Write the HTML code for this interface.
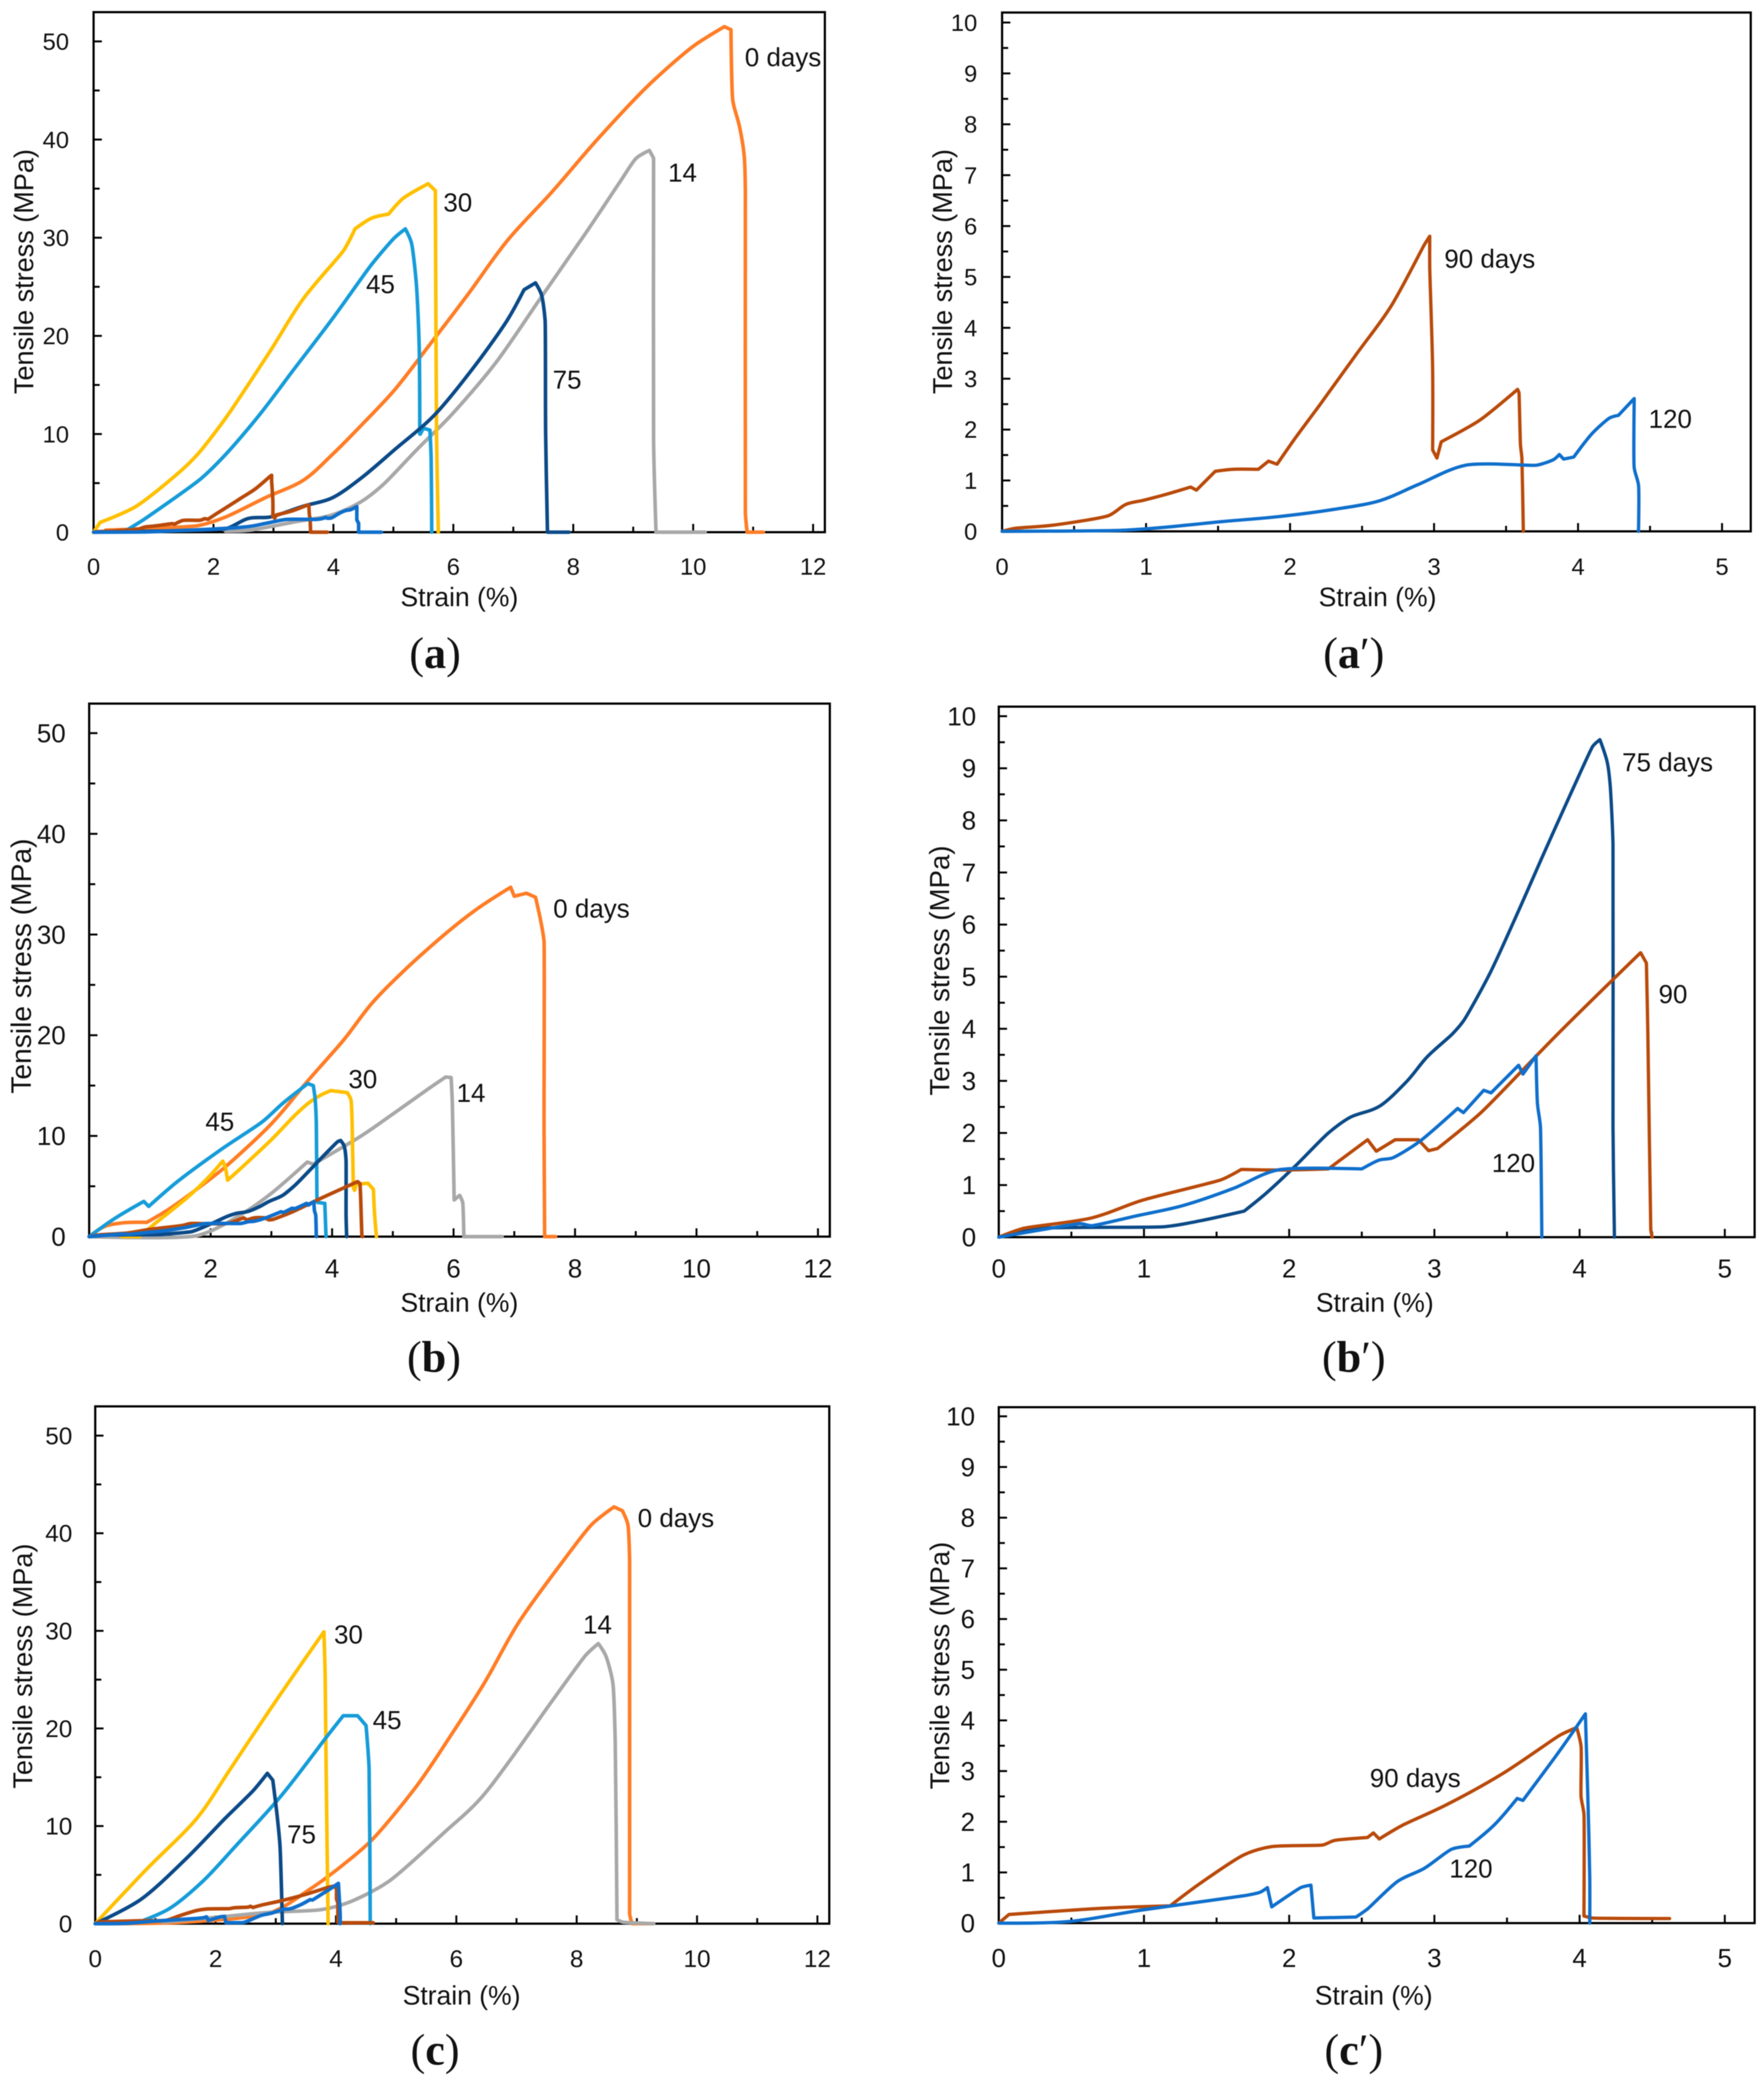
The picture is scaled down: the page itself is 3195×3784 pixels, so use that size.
<!DOCTYPE html>
<html lang="en">
<head>
<meta charset="utf-8">
<title>Tensile stress versus strain curves</title>
<style>
html,body{margin:0;padding:0;background:#fff;width:3195px;height:3784px;overflow:hidden}
svg{display:block;filter:blur(.8px)}
text{fill:#111;font-family:"Liberation Sans",sans-serif}
.panel-letter{font-family:"Liberation Serif",serif}
</style>
</head>
<body>
<svg id="figure" xmlns="http://www.w3.org/2000/svg" width="3195" height="3784" viewBox="0 0 3195 3784"></svg>
<script>
// ---- axis values ----
const strainTicksWide=[0,2,4,6,8,10,12];
const strainTicksNarrow=[0,1,2,3,4,5];
const stressTicksWide=[0,10,20,30,40,50];
const stressTicksNarrow=[0,1,2,3,4,5,6,7,8,9,10];

// ---- panel a ----
const aOrangeStrain=[0.2,1.73,2.2,2.86,3.5,3.98,4.45,5.02,5.58,6.24,6.9,7.65,8.4,9.25,10,10.52,10.63,10.66,10.77,10.85,10.87,10.87,10.9,11.17];
const aOrangeStress=[0.2,0.66,1.54,3.5,5.3,7.9,10.8,14.5,18.9,24.2,29.7,34.7,40,45.5,49.5,51.5,51.2,44,41.4,38.4,34.8,2,0,0];
const aGrayStrain=[2.2,2.6,3.4,3.98,4.46,4.83,5.39,5.96,6.7,7.46,8.2,8.78,9.05,9.27,9.34,9.34,9.38,10.2];
const aGrayStress=[0.1,0.2,1.1,1.76,3.1,4.85,8.4,11.9,17.2,23.9,30.4,35.7,38.1,38.9,38.1,9.3,0,0];
const aYellowStrain=[0,0.11,0.7,1.4,1.73,2.2,2.95,3.5,4.17,4.36,4.64,4.92,5.16,5.58,5.7,5.72,5.75];
const aYellowStress=[0,1,2.6,5.95,7.9,11.6,18.5,23.8,28.7,30.9,32,32.4,34,35.5,34.8,10,0];
const aSkyStrain=[0.55,0.84,1.78,2.2,2.76,3.33,3.99,4.64,5.02,5.2,5.3,5.38,5.43,5.44,5.45,5.5,5.61,5.63,5.64];
const aSkyStress=[0.2,1.3,5.4,7.9,11.9,16.5,21.8,27.3,30,30.9,29.5,25.5,19,10,10,10.6,10.4,7.5,0];
const aNavyStrain=[0,2.2,2.58,2.95,3.5,3.98,4.46,5.02,5.68,6.34,6.9,7.18,7.37,7.47,7.53,7.54,7.57,7.93];
const aNavyStress=[0,0.35,1.4,1.55,2.65,3.5,5.5,8.4,11.9,16.8,21.6,24.7,25.4,24.2,21.6,10,0,0];

// ---- panel a' (also drawn in a) ----
const apRustStrain=[0,0.09,0.35,0.74,0.86,0.98,1.13,1.31,1.35,1.48,1.6,1.78,1.85,1.91,2.03,2.21,2.46,2.7,2.93,2.97,2.97,2.99,2.99,3.02,3.05,3.11,3.32,3.58,3.59,3.6,3.61,3.62];
const apRustStress=[0,0.06,0.12,0.31,0.53,0.61,0.72,0.87,0.81,1.18,1.22,1.22,1.38,1.32,1.81,2.5,3.48,4.42,5.62,5.8,5.17,3.2,1.6,1.44,1.76,1.85,2.19,2.79,2.72,1.7,1.44,0];
const apBlueStrain=[0,0.82,1.13,1.52,1.92,2.3,2.62,2.89,3.22,3.71,3.83,3.87,3.9,3.97,4.1,4.22,4.28,4.39,4.39,4.42,4.42];
const apBlueStress=[0,0.02,0.08,0.19,0.29,0.43,0.6,0.92,1.3,1.3,1.41,1.51,1.42,1.46,1.93,2.23,2.28,2.61,1.25,0.91,0];
const aRustTailStrain=[3.9];
const aRustTailStress=[0];
const aBlueTailStrain=[4.8];
const aBlueTailStress=[0];

// ---- panel b ----
const bOrangeStrain=[0,0.25,0.58,0.95,1.32,1.88,2.25,3,3.59,4.2,4.66,5.2,5.87,6.4,6.94,7,7.2,7.35,7.43,7.49,7.49,7.5,7.68];
const bOrangeStress=[0,1,1.38,1.42,2.75,5.2,6.97,11.2,15.4,19.6,23.2,26.5,30.1,32.6,34.7,33.8,34.1,33.7,31.5,29.3,11,0,0];
const bGrayStrain=[0,1.78,2.53,3,3.59,3.69,4.48,5.03,5.59,5.87,5.96,5.98,6.01,6.1,6.15,6.17,6.8];
const bGrayStress=[0,0.1,2.3,4.3,7.4,7.2,10,12.3,14.7,15.85,15.8,13.2,3.64,4.1,3.4,0,0];
const bYellowStrain=[0.54,0.83,1.11,1.6,1.95,2.2,2.24,2.28,2.68,3.03,3.38,3.62,3.83,3.98,4.25,4.31,4.33,4.35,4.37,4.4,4.59,4.68,4.7,4.73];
const bYellowStress=[0,0,1.43,3.8,5.8,7.5,6.9,5.6,7.8,9.8,12,13.3,14.1,14.5,14.3,13.6,11.3,4.9,4.6,5.2,5.3,4.7,2.2,0];
const bSkyStrain=[0,0.42,0.9,0.98,1.46,2.16,2.85,3.2,3.6,3.69,3.72,3.74,3.75,3.76,3.88,3.9];
const bSkyStress=[0,1.8,3.5,3,5.5,8.6,11.4,13.3,15.2,15,13.7,11.3,4,3.4,3.3,0];

// ---- panel b' (also drawn in b) ----
const bpNavyStrain=[0,0.29,1.14,1.38,1.69,1.84,2.04,2.27,2.42,2.62,2.81,2.95,3.12,3.2,3.38,3.59,3.74,3.94,4.09,4.14,4.19,4.21,4.23,4.23,4.24];
const bpNavyStress=[0,0.17,0.2,0.31,0.5,0.84,1.36,2,2.3,2.51,2.99,3.46,3.89,4.15,5.05,6.33,7.28,8.52,9.42,9.55,9.12,8.7,7.54,2.13,0];
const bpRustStrain=[0,0.17,0.64,0.99,1.53,1.67,1.84,2,2.27,2.54,2.6,2.73,2.89,2.96,3.02,3.32,3.86,4.42,4.46,4.47,4.49,4.5];
const bpRustStress=[0,0.17,0.37,0.71,1.1,1.3,1.29,1.29,1.31,1.87,1.65,1.87,1.87,1.66,1.7,2.39,3.93,5.46,5.26,3.93,0.15,0];
const bpBlueStrain=[0,0.56,0.64,0.95,1.26,1.61,1.92,2.5,2.62,2.71,2.89,3.16,3.2,3.34,3.39,3.58,3.61,3.7,3.71,3.73,3.74];
const bpBlueStress=[0,0.26,0.22,0.41,0.6,0.93,1.29,1.31,1.48,1.52,1.82,2.47,2.39,2.82,2.77,3.3,3.13,3.48,2.56,2.13,0];

// ---- panel c ----
const cOrangeStrain=[0,1.5,2.9,3.56,4.03,4.6,5.34,5.9,6.47,7.03,7.78,8.25,8.62,8.76,8.85,8.88,8.88,8.92,9.28];
const cOrangeStress=[0,0.15,1.1,3.5,5.6,8.6,14.1,19.2,24.7,30.8,37.2,40.9,42.7,42.3,40.9,37.2,1,0,0];
const cGrayStrain=[1.12,2.16,2.9,3.75,4.22,4.87,5.81,6.37,6.84,7.59,8.15,8.36,8.48,8.6,8.64,8.67,8.77,9.28];
const cGrayStress=[0.15,0.74,1.16,1.43,2.2,4.3,9.4,12.6,16.3,22.8,27.5,28.7,27.5,24.7,18.7,0.4,0.15,0];
const cYellowStrain=[0,0.84,1.69,2.25,2.9,3.47,3.8,3.82,3.84,3.87];
const cYellowStress=[0,5.5,10.8,15.9,21.9,27,29.9,25.6,14,0];
const cSkyStrain=[0.7,1.22,1.78,2.34,3.09,3.84,4.12,4.36,4.5,4.55,4.57];
const cSkyStress=[0.1,1.5,4.3,8,13.1,19.1,21.3,21.3,20.3,15.9,0];
const cNavyStrain=[0,0.75,1.5,2.16,2.62,2.86,2.95,3.02,3.07,3.11];
const cNavyStress=[0,2.45,6.6,10.8,13.6,15.4,14.7,11.2,8,0];

// ---- panel c' (also drawn in c) ----
const cpRustStrain=[0,0.07,0.37,0.76,1.18,1.38,1.69,1.88,2.23,2.31,2.54,2.58,2.62,2.78,3.08,3.47,3.86,3.98,4.01,4.01,4.03,4.03,4.09,4.62];
const cpRustStress=[0,0.17,0.23,0.3,0.34,0.77,1.35,1.51,1.54,1.63,1.69,1.78,1.66,1.93,2.33,2.95,3.7,3.86,3.49,2.5,2.15,0.14,0.1,0.09];
const cpBlueStrain=[0,0.48,0.99,1.69,1.8,1.85,1.88,2.08,2.15,2.17,2.46,2.54,2.75,2.93,3.12,3.24,3.41,3.57,3.61,3.86,4.04,4.06,4.07,4.07];
const cpBlueStress=[0,0.03,0.26,0.54,0.61,0.7,0.32,0.7,0.75,0.1,0.12,0.28,0.83,1.08,1.46,1.52,1.93,2.46,2.42,3.39,4.13,2.15,0.9,0];

const COL={orange:'#ff7d26',gray:'#a8a8a8',yellow:'#ffc000',sky:'#169cd9',navy:'#0b4a88',rust:'#b94a0a',blue:'#0f6fcc'};
const NS='http://www.w3.org/2000/svg';
const fig=document.getElementById('figure');

function make(tag,parent,props){
  const el=document.createElementNS(NS,tag);
  for(const k in props)el.setAttribute(k,props[k]);
  parent.appendChild(el);
  return el;
}

// Smooth path through the points: sharp bends stay corners, and each handle is
// limited by the shorter neighbouring segment so long drops and plateaus stay straight.
function curvePath(pts){
  const unit=(a,b)=>{const dx=b[0]-a[0],dy=b[1]-a[1],l=Math.hypot(dx,dy)||1;return [dx/l,dy/l,l];};
  const tan=pts.map((p,i)=>{
    if(i===0||i===pts.length-1)return null;
    const u=unit(pts[i-1],p),v=unit(p,pts[i+1]);
    if(u[0]*v[0]+u[1]*v[1]<0.9)return null;
    const s=unit([0,0],[u[0]+v[0],u[1]+v[1]]);
    const h=Math.min(u[2],v[2])/3;
    return [s[0]*h,s[1]*h];
  });
  let d='M'+pts[0][0].toFixed(1)+' '+pts[0][1].toFixed(1);
  for(let i=1;i<pts.length;i++){
    const a=pts[i-1],b=pts[i];
    const t0=tan[i-1],t1=tan[i];
    const c1=t0?[a[0]+t0[0],a[1]+t0[1]]:a;
    const c2=t1?[b[0]-t1[0],b[1]-t1[1]]:b;
    d+='C'+c1[0].toFixed(1)+' '+c1[1].toFixed(1)+' '+c2[0].toFixed(1)+' '+c2[1].toFixed(1)+' '+b[0].toFixed(1)+' '+b[1].toFixed(1);
  }
  return d;
}

function drawPanel(p){
  const g=make('g',fig,{});
  
  
  const X=v=>p.x0+v*p.xUnit;
  const Y=v=>p.y0-v*p.yUnit;

  const frame=make('rect',g,{x:p.x0,y:p.top,width:p.right-p.x0,height:p.y0-p.top,fill:'none',stroke:'#000','stroke-width':4});
  
  

  // x ticks with a minor tick halfway between labelled values
  const xStep=p.xTicks[1]-p.xTicks[0];
  p.xTicks.forEach(v=>{
    const t=make('line',g,{x1:X(v),x2:X(v),y1:p.y0,y2:p.y0-15,stroke:'#000','stroke-width':3.5});
    
    
    const l=make('text',g,{x:X(v),y:p.tickBaseX,'text-anchor':'middle','font-size':p.tickFont});
    l.textContent=v;
    
    
    if(X(v+xStep/2)<p.right){
      const m=make('line',g,{x1:X(v+xStep/2),x2:X(v+xStep/2),y1:p.y0,y2:p.y0-10,stroke:'#000','stroke-width':3.5});
      
      
    }
  });

  // y ticks with a minor tick halfway between labelled values
  const yStep=p.yTicks[1]-p.yTicks[0];
  p.yTicks.forEach((v,i)=>{
    const t=make('line',g,{x1:p.x0,x2:p.x0+15,y1:Y(v),y2:Y(v),stroke:'#000','stroke-width':3.5});
    
    
    const l=make('text',g,{x:p.tickRightY,y:Y(v)+p.tickFont*0.35,'text-anchor':'end','font-size':p.tickFont});
    l.textContent=v;
    
    
    if(i<p.yTicks.length-1){
      const m=make('line',g,{x1:p.x0,x2:p.x0+11,y1:Y(v+yStep/2),y2:Y(v+yStep/2),stroke:'#000','stroke-width':3.5});
      
      
    }
  });

  const xt=make('text',g,{x:p.xTitle[0],y:p.xTitle[1],'text-anchor':'middle','font-size':48});
  xt.textContent='Strain (%)';
  
  

  const yt=make('text',g,{transform:'translate('+p.yTitle[0]+' '+p.yTitle[1]+') rotate(-90)','text-anchor':'middle','font-size':p.titleFont});
  yt.textContent='Tensile stress (MPa)';
  
  

  p.series.forEach(s=>{
    const pts=s.strain.map((v,i)=>[X(v),Y(s.stress[i])]);
    const line=make('path',g,{d:curvePath(pts),fill:'none',stroke:COL[s.color],'stroke-width':p.lineWidth,'stroke-linejoin':'round','stroke-linecap':'round'});
    
    
  });

  p.notes.forEach(n=>{
    const t=make('text',g,{x:n[1],y:n[2],'font-size':47});
    t.textContent=n[0];
    
    
  });

  const cap=make('text',g,{x:p.caption[0],y:p.caption[1],'text-anchor':'middle','font-size':80,'class':'panel-letter'});
  
  
  const c1=make('tspan',cap,{});
  c1.textContent='(';
  const c2=make('tspan',cap,{'font-weight':'bold'});
  c2.textContent=p.id.charAt(0);
  const c3=make('tspan',cap,{});
  c3.textContent=p.id.length>1?'\u2032)':')';
}

const panels=[
 {id:'a',x0:169.5,xUnit:108.6,y0:964,yUnit:17.78,top:22,right:1494,xTicks:strainTicksWide,yTicks:stressTicksWide,tickFont:43,tickBaseX:1041,tickRightY:125,lineWidth:6.5,titleFont:49,
  xTitle:[832,1098],yTitle:[60,492],caption:[788,1210],
  notes:[['0 days',1349,120],['14',1210,329],['30',803,383],['45',663,531],['75',1001,704]],
  series:[
   {name:'0-days',color:'orange',strain:aOrangeStrain,stress:aOrangeStress},
   {name:'14-days',color:'gray',strain:aGrayStrain,stress:aGrayStress},
   {name:'30-days',color:'yellow',strain:aYellowStrain,stress:aYellowStress},
   {name:'45-days',color:'sky',strain:aSkyStrain,stress:aSkyStress},
   {name:'75-days',color:'navy',strain:aNavyStrain,stress:aNavyStress},
   {name:'90-days',color:'rust',strain:apRustStrain.concat(aRustTailStrain),stress:apRustStress.concat(aRustTailStress)},
   {name:'120-days',color:'blue',strain:apBlueStrain.concat(aBlueTailStrain),stress:apBlueStress.concat(aBlueTailStress)}
  ]},
 {id:'a\u2032',x0:1815,xUnit:260.8,y0:962.5,yUnit:92.17,top:22.7,right:3171,xTicks:strainTicksNarrow,yTicks:stressTicksNarrow,tickFont:43,tickBaseX:1041,tickRightY:1770,lineWidth:6,titleFont:49,
  xTitle:[2495,1098],yTitle:[1724,492],caption:[2452,1210],
  notes:[['90 days',2616,485],['120',2986,775]],
  series:[
   {name:'90-days',color:'rust',strain:apRustStrain,stress:apRustStress},
   {name:'120-days',color:'blue',strain:apBlueStrain,stress:apBlueStress}
  ]},
 {id:'b',x0:161.5,xUnit:110,y0:2240,yUnit:18.24,top:1274.5,right:1503,xTicks:strainTicksWide,yTicks:stressTicksWide,tickFont:47,tickBaseX:2314,tickRightY:119,lineWidth:6.5,titleFont:51,
  xTitle:[832,2376],yTitle:[56,1750],caption:[786,2485],
  notes:[['0 days',1002,1662],['30',631,1971],['14',827,1996],['45',372,2048]],
  series:[
   {name:'0-days',color:'orange',strain:bOrangeStrain,stress:bOrangeStress},
   {name:'14-days',color:'gray',strain:bGrayStrain,stress:bGrayStress},
   {name:'30-days',color:'yellow',strain:bYellowStrain,stress:bYellowStress},
   {name:'45-days',color:'sky',strain:bSkyStrain,stress:bSkyStress},
   {name:'75-days',color:'navy',strain:bpNavyStrain,stress:bpNavyStress},
   {name:'90-days',color:'rust',strain:bpRustStrain,stress:bpRustStress},
   {name:'120-days',color:'blue',strain:bpBlueStrain,stress:bpBlueStress}
  ]},
 {id:'b\u2032',x0:1809,xUnit:263,y0:2241,yUnit:94.37,top:1280,right:3178,xTicks:strainTicksNarrow,yTicks:stressTicksNarrow,tickFont:47,tickBaseX:2314,tickRightY:1768,lineWidth:6,titleFont:50,
  xTitle:[2490,2376],yTitle:[1719,1758],caption:[2452,2485],
  notes:[['75 days',2938,1397],['90',3004,1817],['120',2702,2123]],
  series:[
   {name:'75-days',color:'navy',strain:bpNavyStrain,stress:bpNavyStress},
   {name:'90-days',color:'rust',strain:bpRustStrain,stress:bpRustStress},
   {name:'120-days',color:'blue',strain:bpBlueStrain,stress:bpBlueStress}
  ]},
 {id:'c',x0:172.5,xUnit:109,y0:3484.5,yUnit:17.68,top:2547.5,right:1502,xTicks:strainTicksWide,yTicks:stressTicksWide,tickFont:44,tickBaseX:3563,tickRightY:131,lineWidth:6.5,titleFont:49,
  xTitle:[836,3631],yTitle:[58,3018],caption:[788,3740],
  notes:[['0 days',1155,2766],['14',1056,2959],['30',605,2977],['45',675,3132],['75',520,3339]],
  series:[
   {name:'0-days',color:'orange',strain:cOrangeStrain,stress:cOrangeStress},
   {name:'14-days',color:'gray',strain:cGrayStrain,stress:cGrayStress},
   {name:'30-days',color:'yellow',strain:cYellowStrain,stress:cYellowStress},
   {name:'45-days',color:'sky',strain:cSkyStrain,stress:cSkyStress},
   {name:'75-days',color:'navy',strain:cNavyStrain,stress:cNavyStress},
   {name:'90-days',color:'rust',strain:cpRustStrain,stress:cpRustStress},
   {name:'120-days',color:'blue',strain:cpBlueStrain,stress:cpBlueStress}
  ]},
 {id:'c\u2032',x0:1809,xUnit:263,y0:3483.5,yUnit:91.8,top:2549,right:3178,xTicks:strainTicksNarrow,yTicks:stressTicksNarrow,tickFont:47,tickBaseX:3563,tickRightY:1766,lineWidth:6,titleFont:49.5,
  xTitle:[2488,3631],yTitle:[1719,3017],caption:[2452,3740],
  notes:[['90 days',2481,3237],['120',2625,3401]],
  series:[
   {name:'90-days',color:'rust',strain:cpRustStrain,stress:cpRustStress},
   {name:'120-days',color:'blue',strain:cpBlueStrain,stress:cpBlueStress}
  ]}
];
panels.forEach(drawPanel);
</script>
</body>
</html>
